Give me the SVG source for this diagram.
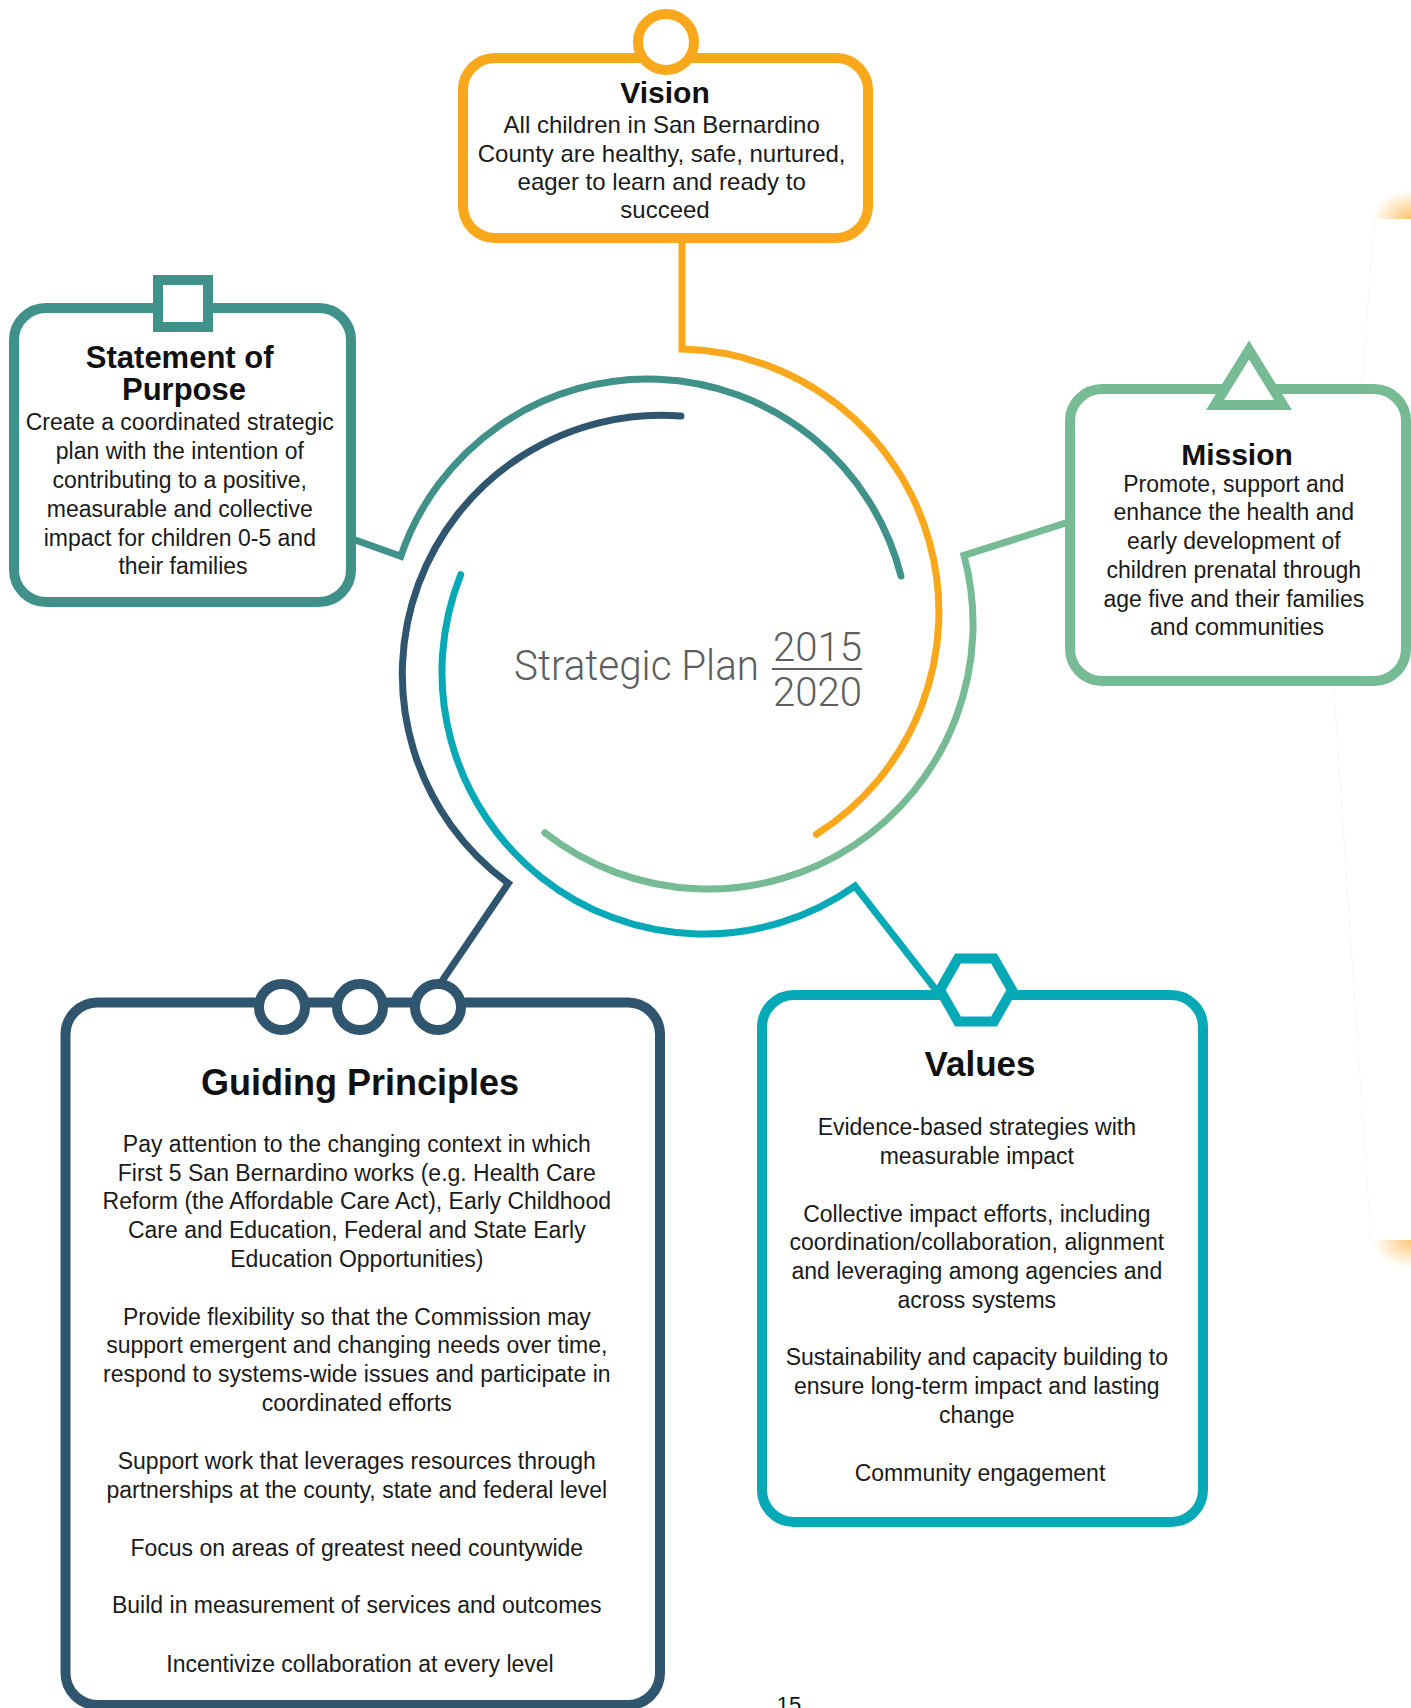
<svg xmlns="http://www.w3.org/2000/svg" width="1411" height="1708" viewBox="0 0 1411 1708">
  <defs>
    <style>
      .box { fill: #ffffff; stroke-width: 10; }
      .tag { fill: #ffffff; stroke-width: 10; }
      .arc { fill: none; stroke-width: 7; stroke-linecap: round; stroke-linejoin: miter; }
      .title { font-family: "Liberation Sans", Arial, sans-serif; font-weight: bold; fill: #111111; text-anchor: middle; }
      .body { font-family: "Liberation Sans", Arial, sans-serif; font-size: 23px; fill: #1a1a1a; text-anchor: middle; }
      .plan { font-family: Roboto, "Liberation Sans", sans-serif; font-weight: 300; fill: #5e5e5e; }
      .orange { stroke: #f9a81b; }
      .teal { stroke: #3f9189; }
      .green { stroke: #77bb95; }
      .navy { stroke: #30566f; }
      .cyan { stroke: #07a9b6; }
    </style>
    <radialGradient id="edgeGlowTop" cx="1" cy="1" r="1">
      <stop offset="0" stop-color="#fbb040" stop-opacity="0.75"/>
      <stop offset="1" stop-color="#fbb040" stop-opacity="0"/>
    </radialGradient>
    <radialGradient id="edgeGlowBottom" cx="1" cy="0" r="1">
      <stop offset="0" stop-color="#fbb040" stop-opacity="0.7"/>
      <stop offset="1" stop-color="#fbb040" stop-opacity="0"/>
    </radialGradient>
  </defs>

  <rect width="1411" height="1708" fill="#ffffff"/>

  <!-- page-edge marks along the right margin -->
  <g id="page-edge">
    <rect x="1372" y="190" width="39" height="29" fill="url(#edgeGlowTop)"/>
    <rect x="1372" y="1240" width="39" height="28" fill="url(#edgeGlowBottom)"/>
    <path d="M1374,219 L1362,388 M1334,690 L1371,1240" fill="none" stroke="#f7f7f7" stroke-width="1"/>
  </g>

  <!-- ring segments and their leader lines -->
  <g id="connectors">
    <path class="arc orange" d="M682,240 L682,349.1 A263,263 0 0 1 816.5,834.3"/>
    <path class="arc teal" d="M351,538.5 L400.8,556.3 A261,261 0 0 1 901,576"/>
    <path class="arc navy" d="M681,416 A259,259 0 0 0 508.4,883.3 L440,984"/>
    <path class="arc cyan" d="M460.7,574.7 A262,262 0 0 0 855,886.1 L936,990"/>
    <path class="arc green" d="M544.8,832.8 A265,265 0 0 0 964,555.4 L1070,521.7"/>
  </g>

  <!-- centre title -->
  <g id="center-title">
    <text class="plan" x="514" y="680" font-size="43" textLength="245" lengthAdjust="spacingAndGlyphs">Strategic Plan</text>
    <text class="plan" x="773" y="661" font-size="41" textLength="89" lengthAdjust="spacingAndGlyphs">2015</text>
    <line x1="772" y1="669" x2="862" y2="669" stroke="#5e5e5e" stroke-width="2"/>
    <text class="plan" x="773" y="706" font-size="41" textLength="89" lengthAdjust="spacingAndGlyphs">2020</text>
  </g>

  <!-- Vision -->
  <g id="vision">
    <rect class="box orange" x="463" y="58" width="405" height="180" rx="32"/>
    <circle class="tag orange" cx="666" cy="42" r="28"/>
    <text class="title" x="665" y="103" font-size="30">Vision</text>
    <text class="body" font-size="24" style="font-size:24px">
      <tspan x="665" y="133">All children in San Bernardino</tspan>
      <tspan x="665" y="162">County are healthy, safe, nurtured,</tspan>
      <tspan x="665" y="190">eager to learn and ready to</tspan>
      <tspan x="665" y="218">succeed</tspan>
    </text>
  </g>

  <!-- Statement of Purpose -->
  <g id="statement-of-purpose">
    <rect class="box teal" x="14" y="308" width="337" height="294" rx="32"/>
    <rect class="tag teal" x="158" y="280" width="50" height="47"/>
    <text class="title" font-size="31">
      <tspan x="184" y="368">Statement of</tspan>
      <tspan x="184" y="400">Purpose</tspan>
    </text>
    <text class="body">
      <tspan x="183" y="430">Create a coordinated strategic</tspan>
      <tspan x="183" y="459">plan with the intention of</tspan>
      <tspan x="183" y="488">contributing to a positive,</tspan>
      <tspan x="183" y="517">measurable and collective</tspan>
      <tspan x="183" y="546">impact for children 0-5 and</tspan>
      <tspan x="183" y="574">their families</tspan>
    </text>
  </g>

  <!-- Mission -->
  <g id="mission">
    <rect class="box green" x="1070" y="389" width="336" height="292" rx="32"/>
    <polygon class="tag green" points="1249,350 1283,405 1215,405"/>
    <text class="title" x="1237" y="465" font-size="30">Mission</text>
    <text class="body">
      <tspan x="1237" y="492">Promote, support and</tspan>
      <tspan x="1237" y="520">enhance the health and</tspan>
      <tspan x="1237" y="549">early development of</tspan>
      <tspan x="1237" y="578">children prenatal through</tspan>
      <tspan x="1237" y="607">age five and their families</tspan>
      <tspan x="1237" y="635">and communities</tspan>
    </text>
  </g>

  <!-- Values -->
  <g id="values">
    <rect class="box cyan" x="762" y="995" width="441" height="527" rx="32"/>
    <polygon class="tag cyan" points="940,990 958,958.5 994,958.5 1012,990 994,1021.5 958,1021.5"/>
    <text class="title" x="980" y="1076" font-size="35">Values</text>
    <text class="body">
      <tspan x="980" y="1135">Evidence-based strategies with</tspan>
      <tspan x="980" y="1163.7">measurable impact</tspan>
      <tspan x="980" y="1221.5">Collective impact efforts, including</tspan>
      <tspan x="980" y="1250.2">coordination/collaboration, alignment</tspan>
      <tspan x="980" y="1278.9">and leveraging among agencies and</tspan>
      <tspan x="980" y="1307.6">across systems</tspan>
      <tspan x="980" y="1365.4">Sustainability and capacity building to</tspan>
      <tspan x="980" y="1394">ensure long-term impact and lasting</tspan>
      <tspan x="980" y="1422.8">change</tspan>
      <tspan x="980" y="1480.6">Community engagement</tspan>
    </text>
  </g>

  <!-- Guiding Principles -->
  <g id="guiding-principles">
    <rect class="box navy" x="65.5" y="1002.5" width="594.5" height="702.5" rx="32"/>
    <circle class="tag navy" cx="282" cy="1007" r="23"/>
    <circle class="tag navy" cx="360" cy="1007" r="23"/>
    <circle class="tag navy" cx="438" cy="1007" r="23"/>
    <text class="title" x="360" y="1095" font-size="36">Guiding Principles</text>
    <text class="body">
      <tspan x="360" y="1152">Pay attention to the changing context in which</tspan>
      <tspan x="360" y="1181">First 5 San Bernardino works (e.g. Health Care</tspan>
      <tspan x="360" y="1209">Reform (the Affordable Care Act), Early Childhood</tspan>
      <tspan x="360" y="1238">Care and Education, Federal and State Early</tspan>
      <tspan x="360" y="1267">Education Opportunities)</tspan>
      <tspan x="360" y="1325">Provide flexibility so that the Commission may</tspan>
      <tspan x="360" y="1353">support emergent and changing needs over time,</tspan>
      <tspan x="360" y="1382">respond to systems-wide issues and participate in</tspan>
      <tspan x="360" y="1411">coordinated efforts</tspan>
      <tspan x="360" y="1469">Support work that leverages resources through</tspan>
      <tspan x="360" y="1498">partnerships at the county, state and federal level</tspan>
      <tspan x="360" y="1556">Focus on areas of greatest need countywide</tspan>
      <tspan x="360" y="1613">Build in measurement of services and outcomes</tspan>
      <tspan x="360" y="1672">Incentivize collaboration at every level</tspan>
    </text>
  </g>

  <!-- page number -->
  <text id="page-number" x="789" y="1712" font-family="'Liberation Sans', Arial, sans-serif" font-size="22" fill="#111111" text-anchor="middle">15</text>
</svg>
